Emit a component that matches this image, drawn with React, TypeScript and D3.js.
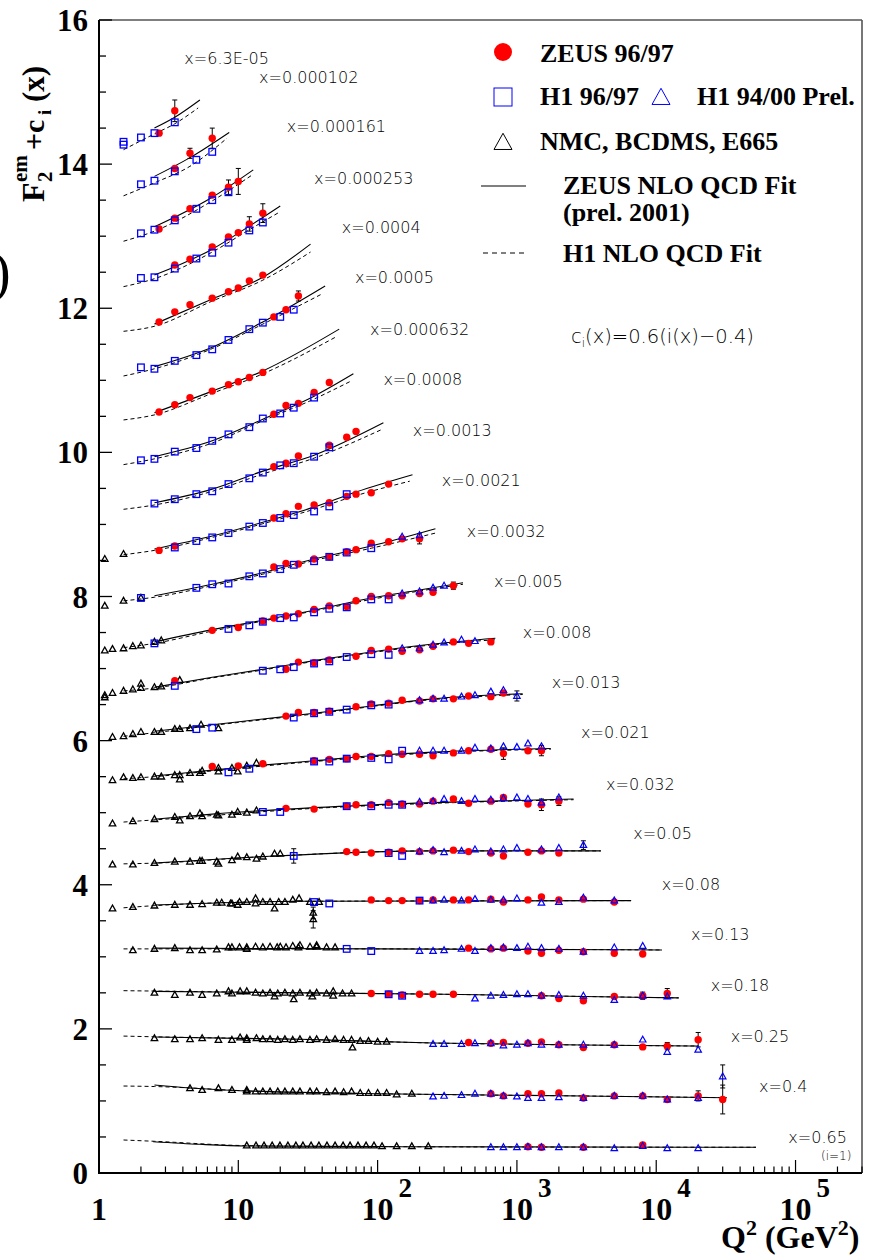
import React from 'react';
import * as d3 from 'd3';

// ---------- DATA ----------
const binLabels = ['x=6.3E-05','x=0.000102','x=0.000161','x=0.000253','x=0.0004','x=0.0005','x=0.000632','x=0.0008','x=0.0013','x=0.0021','x=0.0032','x=0.005','x=0.008','x=0.013','x=0.021','x=0.032','x=0.05','x=0.08','x=0.13','x=0.18','x=0.25','x=0.4','x=0.65'];
// label anchor (Q2 at text start, F2+c at baseline)
const labelQ2 = [4.1,14.1,22.3,35,55.3,68.8,88.2,110,179,289,436,685,1100,1780,2885,4360,6850,10950,17780,24620,34260,54700,88790];
const labelF2 = [15.39,15.13,14.44,13.73,13.04,12.35,11.63,10.94,10.23,9.53,8.83,8.13,7.43,6.73,6.03,5.32,4.63,3.93,3.23,2.53,1.82,1.12,0.42];

const xTickLabels = ['1','10','10','10','10','10'];
const xTickExp = ['','','2','3','4','5'];
const yTickLabels = ['0','2','4','6','8','10','12','14','16'];

// [bin, Q2, F2+c, err?]
const zeusPts: number[][] = [
  [0,2.7,14.43],[0,3.5,14.74,0.15],
  [1,3.5,13.94],[1,4.5,14.15,0.07],[1,6.5,14.36,0.14],
  [2,2.7,13.10],[2,3.5,13.25],[2,4.5,13.38],[2,6.5,13.57],[2,8.5,13.68,0.1],[2,10,13.76,0.18],
  [3,3.5,12.60],[3,4.5,12.68],[3,6.5,12.85],[3,8.5,12.99],[3,10,13.05],[3,12,13.17,0.1],[3,15,13.32,0.13],
  [4,2.7,11.81],[4,3.5,11.95],[4,4.5,12.05],[4,6.5,12.14],[4,8.5,12.23],[4,10,12.28],[4,12,12.38],[4,15,12.46],
  [5,18,11.88],[5,22,11.98],[5,27,12.17,0.07],
  [6,2.7,10.56],[6,3.5,10.66],[6,4.5,10.76],[6,6.5,10.85],[6,8.5,10.94],[6,10,10.98],[6,12,11.04],[6,15,11.11],
  [7,18,10.53],[7,22,10.65],[7,27,10.68],[7,35,10.83],[7,45,10.97],
  [8,18,9.80],[8,22,9.85],[8,27,9.95],[8,45,10.10],[8,60,10.21],[8,70,10.29],
  [9,2.7,8.64],[9,3.5,8.70],[9,18,9.09],[9,22,9.15],[9,27,9.25],[9,35,9.27],[9,45,9.30],[9,60,9.39],[9,70,9.42],[9,90,9.44],[9,120,9.56],
  [10,18,8.41],[10,22,8.46],[10,27,8.45],[10,35,8.52],[10,45,8.55],[10,60,8.62],[10,70,8.65],[10,90,8.74],[10,120,8.76],[10,150,8.80],[10,200,8.80,0.07],
  [11,6.5,7.53],[11,10,7.57],[11,15,7.66],[11,18,7.70],[11,22,7.73],[11,27,7.76],[11,35,7.82],[11,45,7.87],[11,60,7.86],[11,70,7.94],[11,90,8.00],[11,120,8.01],[11,150,8.01],[11,200,8.04],[11,250,8.06],[11,350,8.15,0.05],
  [12,3.5,6.83],[12,22,6.99],[12,27,7.09],[12,35,7.08],[12,45,7.12],[12,70,7.17],[12,90,7.25],[12,120,7.27],[12,150,7.24],[12,200,7.26],[12,250,7.31],[12,350,7.37],[12,450,7.35],[12,650,7.37],
  [13,22,6.34],[13,27,6.39],[13,35,6.39],[13,45,6.41],[13,70,6.47],[13,90,6.51],[13,120,6.52],[13,150,6.56],[13,200,6.55],[13,250,6.58],[13,350,6.58],[13,450,6.62],[13,650,6.61],[13,800,6.66],
  [14,6.5,5.64],[14,10,5.65],[14,15,5.68],[14,35,5.72],[14,45,5.74],[14,60,5.75],[14,70,5.78],[14,90,5.78],[14,120,5.82],[14,150,5.81],[14,200,5.81],[14,250,5.79],[14,350,5.83],[14,450,5.86],[14,650,5.88],[14,800,5.82,0.08],[14,1200,5.86],[14,1500,5.86,0.07],
  [15,22,5.06],[15,35,5.05],[15,60,5.09],[15,70,5.11],[15,90,5.11],[15,120,5.14],[15,150,5.12],[15,200,5.12],[15,250,5.16],[15,350,5.19],[15,450,5.13],[15,650,5.16],[15,800,5.21],[15,1200,5.12],[15,1500,5.11,0.08],[15,2000,5.16,0.06],
  [16,60,4.46],[16,70,4.45],[16,90,4.44],[16,120,4.45],[16,150,4.47],[16,200,4.46],[16,250,4.47],[16,350,4.48],[16,450,4.46],[16,650,4.44],[16,800,4.40],[16,1200,4.45],[16,1500,4.47],[16,2000,4.44],
  [17,90,3.79],[17,120,3.78],[17,150,3.78],[17,200,3.78],[17,250,3.79],[17,350,3.79],[17,450,3.79],[17,650,3.80],[17,800,3.76],[17,1200,3.79],[17,1500,3.83],[17,2000,3.79],[17,3000,3.80],[17,5000,3.76],
  [18,450,3.12],[18,650,3.11],[18,800,3.12],[18,1200,3.08],[18,1500,3.05],[18,2000,3.09],[18,3000,3.07],[18,5000,3.05],[18,8000,3.04],
  [19,90,2.49],[19,120,2.48],[19,150,2.47],[19,200,2.48],[19,250,2.48],[19,350,2.48],[19,1500,2.46],[19,2000,2.42],[19,3000,2.39],[19,5000,2.45],[19,8000,2.46,0.05],[19,12000,2.49,0.07],
  [20,450,1.81],[20,650,1.80],[20,800,1.81],[20,1200,1.80],[20,1500,1.82],[20,2000,1.78],[20,3000,1.74],[20,5000,1.78],[20,8000,1.75],[20,12000,1.76,0.05],[20,20000,1.85,0.1],
  [21,650,1.10],[21,800,1.07],[21,1200,1.10],[21,1500,1.10],[21,2000,1.11],[21,3000,1.04],[21,5000,1.07],[21,8000,1.07],[21,12000,1.02],[21,20000,1.07,0.07],[21,30000,1.02,0.2],
  [22,1200,0.365],[22,1500,0.357],[22,3000,0.357],[22,8000,0.39],
];

const h1SquarePts: number[][] = [
  [0,1.5,14.31],[0,1.5,14.27],[0,2,14.37],[0,2.5,14.43],[0,3.5,14.58],
  [1,2,13.72],[1,2.5,13.77],[1,3.5,13.90],[1,5,14.06],[1,6.5,14.17],
  [2,2,13.04],[2,2.5,13.09],[2,3.5,13.22],[2,5,13.38],[2,6.5,13.50],[2,8.5,13.61],
  [3,2,12.42],[3,2.5,12.43],[3,3.5,12.55],[3,5,12.69],[3,6.5,12.77],[3,8.5,12.91],[3,12,13.08],[3,15,13.19],
  [5,2,11.18],[5,2.5,11.16],[5,3.5,11.27],[5,5,11.35],[5,6.5,11.43],[5,8.5,11.56],[5,12,11.71],[5,15,11.80],[5,20,11.88],[5,25,11.98],
  [7,2,9.89],[7,2.5,9.91],[7,3.5,10.01],[7,5,10.06],[7,6.5,10.16],[7,8.5,10.25],[7,12,10.35],[7,15,10.47],[7,20,10.54],[7,25,10.62],[7,35,10.76],
  [8,2.5,9.29],[8,3.5,9.35],[8,5,9.42],[8,6.5,9.46],[8,8.5,9.56],[8,12,9.64],[8,15,9.72],[8,20,9.82],[8,25,9.85],[8,35,9.94],[8,45,10.07],
  [9,3.5,8.68],[9,5,8.77],[9,6.5,8.82],[9,8.5,8.88],[9,12,8.97],[9,15,9.02],[9,20,9.09],[9,25,9.13],[9,35,9.18],[9,45,9.25],[9,60,9.42],
  [10,2,7.98],[10,5,8.12],[10,6.5,8.17],[10,8.5,8.18],[10,12,8.28],[10,15,8.32],[10,20,8.38],[10,25,8.44],[10,35,8.49],[10,45,8.55],[10,60,8.61],[10,90,8.67],
  [11,2.5,7.35],[11,8.5,7.55],[11,12,7.60],[11,15,7.65],[11,20,7.70],[11,25,7.71],[11,35,7.78],[11,45,7.83],[11,60,7.85],[11,90,7.96],[11,120,7.96],
  [12,3.5,6.76],[12,15,6.97],[12,20,6.99],[12,25,7.02],[12,35,7.07],[12,45,7.10],[12,60,7.16],[12,90,7.20],[12,120,7.19],
  [13,5,6.16],[13,6.5,6.18],[13,25,6.32],[13,35,6.38],[13,45,6.40],[13,60,6.43],[13,90,6.49],[13,120,6.50],
  [14,8.5,5.56],[14,12,5.61],[14,35,5.71],[14,45,5.71],[14,60,5.75],[14,90,5.76],[14,120,5.74],[14,150,5.86],
  [15,15,5.01],[15,20,5.01],[15,60,5.09],[15,90,5.09],[15,120,5.11],[15,150,5.11],
  [16,25,4.40,0.1],[16,120,4.44],[16,150,4.40],
  [17,35,3.76],[17,45,3.74],[17,200,3.78],
  [18,60,3.11],[18,90,3.08],
  [19,120,2.48],[19,150,2.46],
];

const h1TrianglePts: number[][] = [
  [10,150,8.83],[10,200,8.85],
  [11,150,8.04],[11,200,8.07],[11,250,8.12],[11,300,8.15],
  [12,150,7.28],[12,200,7.28],[12,250,7.33],[12,300,7.36],[12,400,7.40],[12,500,7.38],
  [13,200,6.56],[13,250,6.58],[13,300,6.58],[13,400,6.61],[13,500,6.63],[13,650,6.68],[13,800,6.70],[13,1000,6.62,0.07],
  [14,200,5.86],[14,250,5.86],[14,300,5.86],[14,400,5.86],[14,500,5.90],[14,650,5.89],[14,800,5.92],[14,1000,5.91],[14,1200,5.96],[14,1500,5.92],
  [15,200,5.15],[15,250,5.16],[15,300,5.19],[15,400,5.16],[15,500,5.19],[15,650,5.18],[15,800,5.20],[15,1000,5.21],[15,1200,5.19],[15,1500,5.14],[15,2000,5.21],
  [16,200,4.46],[16,250,4.48],[16,300,4.45],[16,400,4.47],[16,500,4.49],[16,650,4.46],[16,800,4.49],[16,1000,4.51],[16,1500,4.49],[16,2000,4.51],[16,3000,4.55,0.06],
  [17,250,3.78],[17,300,3.79],[17,400,3.78],[17,500,3.80],[17,650,3.79],[17,800,3.79],[17,1000,3.81],[17,1500,3.75],[17,2000,3.76],[17,3000,3.82],[17,5000,3.78],
  [18,200,3.08],[18,250,3.08],[18,300,3.09],[18,400,3.11],[18,500,3.08],[18,650,3.12],[18,800,3.13],[18,1000,3.12],[18,1200,3.14],[18,1500,3.12],[18,2000,3.11],[18,3000,3.07],[18,5000,3.13],[18,8000,3.15],
  [19,500,2.42],[19,650,2.46],[19,800,2.47],[19,1000,2.48],[19,1200,2.48],[19,1500,2.46],[19,2000,2.47],[19,3000,2.46],[19,5000,2.40],[19,8000,2.46],[19,12000,2.45],
  [20,250,1.79],[20,300,1.79],[20,400,1.79],[20,500,1.80],[20,650,1.80],[20,800,1.77],[20,1000,1.78],[20,1200,1.80],[20,1500,1.78],[20,2000,1.78],[20,3000,1.78],[20,5000,1.78],[20,8000,1.85],[20,12000,1.68],[20,20000,1.71],
  [21,250,1.06],[21,300,1.07],[21,400,1.08],[21,500,1.10],[21,650,1.10],[21,800,1.07],[21,1000,1.06],[21,1200,1.04],[21,1500,1.04],[21,2000,1.05],[21,3000,1.04],[21,5000,1.07],[21,8000,1.07],[21,12000,1.02],[21,20000,1.04],[21,30000,1.34,0.16],
  [22,650,0.357],[22,800,0.357],[22,1000,0.357],[22,1200,0.365],[22,1500,0.357],[22,2000,0.357],[22,3000,0.357],[22,5000,0.343],[22,8000,0.375],[22,12000,0.343],[22,20000,0.343],
];

const fixedTargetPts: number[][] = [
  [9,1.1,8.52],[9,1.5,8.59],
  [10,1.1,7.87],[10,1.5,7.94],[10,2,7.98],
  [11,1.1,7.25],[11,1.25,7.27],[11,1.5,7.28],[11,1.75,7.31],[11,2,7.32],[11,2.5,7.37],[11,2.8,7.39],
  [12,1.1,6.63],[12,1.1,6.60],[12,1.25,6.66],[12,1.5,6.69],[12,1.75,6.71],[12,2,6.73],[12,2,6.79],[12,2.5,6.74],[12,2.8,6.75],[12,3.8,6.84],
  [13,1.25,6.05],[13,1.5,6.06],[13,1.75,6.09],[13,2,6.12],[13,2.5,6.12],[13,2.8,6.12],[13,3.5,6.16],[13,3.8,6.16],[13,4.5,6.17],[13,5.4,6.22],[13,7.2,6.17],
  [14,1.25,5.45],[14,1.5,5.49],[14,1.75,5.48],[14,2,5.49],[14,2.5,5.50],[14,2.8,5.50],[14,3.5,5.52],[14,3.8,5.52],[14,3.8,5.46],[14,4.5,5.55],[14,5.3,5.55],[14,5.5,5.58],[14,7.2,5.62],[14,7.2,5.57],[14,9,5.62],[14,9.9,5.57],[14,11.5,5.65],[14,13.5,5.69],
  [15,1.25,4.85],[15,1.75,4.88],[15,2.5,4.91],[15,3.5,4.94],[15,3.8,4.89],[15,4.5,4.95],[15,5.3,4.99],[15,5.5,4.95],[15,7,4.97],[15,7.2,4.96],[15,9,4.97],[15,9.9,5.01],[15,11.5,5.00],[15,13.5,5.03],
  [16,1.25,4.28],[16,1.75,4.28],[16,2.5,4.30],[16,3.5,4.32],[16,4.5,4.32],[16,5.3,4.33],[16,5.5,4.33],[16,7,4.32],[16,7.2,4.29],[16,9,4.34],[16,9.9,4.39],[16,11.5,4.38],[16,13.5,4.36],[16,15,4.39],[16,18.2,4.43],[16,20,4.43],
  [17,1.25,3.67],[17,1.75,3.69],[17,2.5,3.71],[17,3.5,3.72],[17,4.5,3.72],[17,5.5,3.73],[17,7,3.75],[17,7.6,3.75],[17,8.8,3.74],[17,9,3.74],[17,9.9,3.72],[17,10.2,3.76],[17,11.5,3.76],[17,13.3,3.81],[17,13.3,3.74],[17,15,3.76],[17,16.9,3.76],[17,18.2,3.67],[17,19.5,3.76],[17,21.6,3.76],[17,24.6,3.79],[17,27.3,3.81],[17,32.7,3.76],[17,34.5,3.61,0.08],[17,34.5,3.52,0.12],[17,38,3.76],
  [18,1.75,3.09],[18,2.5,3.11],[18,3.5,3.12],[18,4.5,3.09],[18,5.5,3.09],[18,7,3.10],[18,8.5,3.13],[18,9,3.13],[18,10.2,3.13],[18,11.5,3.13],[18,11.5,3.11],[18,13.3,3.14],[18,15,3.13],[18,16.9,3.14],[18,19,3.13],[18,20,3.14],[18,22,3.13],[18,24.6,3.15],[18,27,3.13],[18,27.7,3.16],[18,32.7,3.14],[18,36.5,3.16],[18,36.5,3.14],[18,43,3.13],[18,49.5,3.13],
  [19,2.5,2.50],[19,3.5,2.47],[19,4.5,2.50],[19,5.5,2.47],[19,7,2.49],[19,8.5,2.52],[19,9,2.49],[19,10.3,2.52],[19,11.5,2.52],[19,13.3,2.50],[19,15,2.49],[19,16.9,2.50],[19,18.2,2.45],[19,19.2,2.49],[19,21.6,2.50],[19,24.6,2.49],[19,25,2.41],[19,27.7,2.50],[19,32.7,2.49],[19,34,2.45],[19,36.5,2.50],[19,43,2.49],[19,48,2.52],[19,48,2.46],[19,56,2.49],[19,65,2.49],
  [20,2.5,1.87],[20,3.5,1.855],[20,4.5,1.855],[20,5.5,1.87],[20,7.2,1.846],[20,9,1.846],[20,10.3,1.88],[20,11.5,1.87],[20,11.5,1.846],[20,13.5,1.87],[20,15,1.855],[20,16.9,1.855],[20,19.2,1.846],[20,21.6,1.855],[20,24.6,1.846],[20,27.7,1.855],[20,32.7,1.846],[20,36.5,1.855],[20,43,1.846],[20,49.5,1.855],[20,57,1.846],[20,65,1.846],[20,66,1.74],[20,75,1.83],[20,86,1.83],[20,100,1.82],[20,116,1.82],
  [21,4.5,1.175],[21,5.5,1.15],[21,7.2,1.175],[21,9,1.15],[21,11.5,1.15],[21,11.5,1.13],[21,13.3,1.13],[21,15,1.13],[21,16.9,1.13],[21,19.2,1.13],[21,21.6,1.13],[21,24.6,1.13],[21,27.7,1.13],[21,32.7,1.13],[21,36.5,1.13],[21,43,1.12],[21,49.5,1.13],[21,57,1.12],[21,65,1.13],[21,75,1.11],[21,86,1.11],[21,100,1.11],[21,116,1.11],[21,137,1.09],[21,176,1.10],
  [22,11.5,0.38],[22,13.4,0.38],[22,15.3,0.38],[22,17.5,0.38],[22,19.9,0.38],[22,22.7,0.38],[22,25.9,0.38],[22,29.1,0.38],[22,33.3,0.38],[22,37.9,0.38],[22,43.3,0.38],[22,49.5,0.38],[22,56.5,0.38],[22,63.4,0.38],[22,72.3,0.38],[22,82.6,0.38],[22,94.2,0.38],[22,107.6,0.37],[22,137,0.37],[22,176,0.37],[22,231,0.37],
];

// fits: [bin, Q2, F2+c]
const zeusFit: number[][] = [
  [0,2.5,14.50],[0,3.5,14.65],[0,5.3,14.89],
  [1,2.5,13.83],[1,4.5,14.09],[1,8.6,14.44],
  [2,2.5,13.13],[2,6.5,13.54],[2,12.8,13.92],
  [3,2.5,12.46],[3,6.5,12.82],[3,12,13.14],[3,20,13.42],
  [4,2.5,11.78],[4,6.5,12.13],[4,15,12.43],[4,33,12.89],
  [5,2.5,11.19],[5,6.5,11.46],[5,15,11.81],[5,42,12.31],
  [6,2.5,10.55],[6,6.5,10.85],[6,15,11.13],[6,53,11.71],
  [7,2.5,9.94],[7,6.5,10.16],[7,15,10.46],[7,35,10.78],[7,67,11.09],
  [8,2.5,9.30],[8,6.5,9.49],[8,15,9.74],[8,35,9.96],[8,110,10.41],
  [9,2.5,8.66],[9,6.5,8.84],[9,15,9.03],[9,35,9.24],[9,70,9.45],[9,178,9.69],
  [10,2.5,8.01],[10,6.5,8.17],[10,15,8.33],[10,35,8.52],[10,90,8.70],[10,260,8.94],
  [11,2.5,7.37],[11,6.5,7.54],[11,15,7.67],[11,35,7.81],[11,90,7.98],[11,200,8.09],[11,410,8.19],
  [12,2.5,6.74],[12,6.5,6.88],[12,15,6.99],[12,35,7.11],[12,90,7.23],[12,250,7.34],[12,700,7.42],
  [13,2.5,6.13],[13,6.5,6.22],[13,15,6.30],[13,35,6.38],[13,90,6.48],[13,250,6.58],[13,1100,6.65],
  [14,2.5,5.51],[14,6.5,5.59],[14,15,5.66],[14,35,5.72],[14,90,5.79],[14,250,5.84],[14,1750,5.89],
  [15,2.5,4.91],[15,6.5,4.98],[15,35,5.07],[15,250,5.14],[15,2550,5.19],
  [16,2.5,4.30],[16,15,4.39],[16,250,4.47],[16,4000,4.47],
  [17,2.5,3.72],[17,28,3.77],[17,6600,3.78],
  [18,2.5,3.12],[18,100,3.11],[18,11000,3.095],
  [19,2.5,2.52],[19,30,2.50],[19,300,2.48],[19,3000,2.45],[19,14500,2.43],
  [20,2.5,1.887],[20,28,1.855],[20,250,1.804],[20,3000,1.776],[20,20000,1.762],
  [21,2.5,1.221],[21,4.5,1.18],[21,12,1.138],[21,145,1.096],[21,3000,1.069],[21,32000,1.045],
  [22,2.45,0.434],[22,5.3,0.398],[22,11.5,0.375],[22,145,0.365],[22,52000,0.357],
];

const h1Fit: number[][] = [
  [0,1.5,14.20],[0,2.5,14.42],[0,3.5,14.56],[0,5.15,14.78],
  [1,1.5,13.56],[1,2.5,13.74],[1,4.5,13.97],[1,8.3,14.36],
  [2,1.5,12.93],[2,2.5,13.07],[2,6.5,13.49],[2,12.8,13.86],
  [3,1.5,12.30],[3,2.5,12.41],[3,6.5,12.78],[3,12,13.09],[3,20,13.34],
  [4,1.5,11.68],[4,2.5,11.75],[4,6.5,12.10],[4,15,12.39],[4,33,12.78],
  [5,1.5,11.06],[5,2.5,11.16],[5,6.5,11.44],[5,15,11.78],[5,40,12.20],
  [6,1.5,10.45],[6,2.5,10.52],[6,6.5,10.82],[6,15,11.09],[6,50,11.60],
  [7,1.5,9.83],[7,2.5,9.91],[7,6.5,10.13],[7,15,10.44],[7,35,10.74],[7,63,10.98],
  [8,1.5,9.21],[8,2.5,9.27],[8,6.5,9.46],[8,15,9.70],[8,35,9.92],[8,105,10.31],
  [9,1.5,8.58],[9,2.5,8.64],[9,6.5,8.82],[9,15,9.01],[9,35,9.21],[9,70,9.40],[9,170,9.60],
  [10,1.5,7.94],[10,2.5,7.99],[10,6.5,8.15],[10,15,8.31],[10,35,8.50],[10,90,8.67],[10,260,8.88],
  [11,1.5,7.29],[11,2.5,7.35],[11,6.5,7.52],[11,15,7.66],[11,35,7.80],[11,90,7.96],[11,410,8.17],
  [12,1.5,6.69],[12,2.5,6.73],[12,6.5,6.87],[12,15,6.98],[12,35,7.10],[12,90,7.22],[12,250,7.33],[12,700,7.40],
  [13,1.5,6.06],[13,2.5,6.11],[13,6.5,6.21],[13,35,6.37],[13,250,6.57],[13,1100,6.64],
  [14,1.5,5.47],[14,2.5,5.50],[14,6.5,5.58],[14,35,5.71],[14,250,5.83],[14,1750,5.88],
  [15,1.5,4.87],[15,2.5,4.90],[15,35,5.06],[15,250,5.13],[15,2550,5.18],
  [16,1.5,4.29],[16,2.5,4.30],[16,15,4.39],[16,250,4.47],[16,4000,4.47],
  [17,1.5,3.68],[17,2.5,3.71],[17,28,3.77],[17,6600,3.78],
  [18,1.5,3.11],[18,100,3.11],[18,11000,3.095],
  [19,1.5,2.53],[19,30,2.50],[19,300,2.48],[19,3000,2.45],[19,14500,2.43],
  [20,1.5,1.90],[20,2.5,1.89],[20,28,1.855],[20,250,1.804],[20,3000,1.776],[20,20000,1.762],
  [21,1.5,1.207],[21,2.5,1.20],[21,12,1.138],[21,145,1.096],[21,3000,1.069],[21,32000,1.045],
  [22,1.5,0.458],[22,2.5,0.44],[22,11.5,0.38],[22,145,0.365],[22,52000,0.357],
];

// ---------- CHART ----------
const SERIF = '"Liberation Serif", "Times New Roman", serif';
const SANS = '"DejaVu Sans", sans-serif';

function tri(cx: number, cy: number, s: number) {
  const h = s * 0.9;
  return `M${cx},${cy - h * 0.6}L${cx + s / 2},${cy + h * 0.4}L${cx - s / 2},${cy + h * 0.4}Z`;
}

export default function App() {
  const W = 874, H = 1255;
  const L = 99, R = 862, T = 20, B = 1173;
  const x = d3.scaleLog().domain([1, 3e5]).range([L, R]);
  const y = d3.scaleLinear().domain([0, 16]).range([B, T]);
  const line = d3.line<number[]>().x(d => x(d[1])).y(d => y(d[2])).curve(d3.curveMonotoneX);

  const zGroups = Array.from(d3.group(zeusFit, d => d[0]).values());
  const hGroups = Array.from(d3.group(h1Fit, d => d[0]).values());

  const yTicks = d3.range(0, 16.001, 0.5);
  const xTicks: { v: number; major: boolean }[] = [];
  for (let e = 0; e <= 5; e++) {
    for (let m = 1; m <= 9; m++) {
      const v = m * Math.pow(10, e);
      if (v <= 3e5 && v > 1) xTicks.push({ v, major: m === 1 });
    }
  }

  const allPts = [...zeusPts, ...h1SquarePts, ...h1TrianglePts, ...fixedTargetPts].filter(p => p[3] !== undefined);

  return (
    <svg width={W} height={H} style={{ position: 'absolute', left: 0, top: 0, background: '#fff' }}>
      <rect x={0} y={0} width={W} height={H} fill="#fff" />
      {/* stray bracket at the left edge */}
      <text x={-8} y={291} fontFamily={SERIF} fontSize={56}>)</text>

      {/* frame */}
      <line x1={L} y1={T} x2={R} y2={T} stroke="#555" strokeWidth={1.6} />
      <line x1={R} y1={T} x2={R} y2={B} stroke="#555" strokeWidth={1.6} />

      {/* fits */}
      {hGroups.map((g, i) => (
        <path key={'h' + i} d={line(g) || ''} fill="none" stroke="#000" strokeWidth={1} strokeDasharray="4,3" />
      ))}
      {zGroups.map((g, i) => (
        <path key={'z' + i} d={line(g) || ''} fill="none" stroke="#000" strokeWidth={1.1} />
      ))}

      {/* error bars */}
      {allPts.map((p, i) => (
        <g key={'e' + i} stroke="#000" strokeWidth={1}>
          <line x1={x(p[1])} x2={x(p[1])} y1={y(p[2] - p[3])} y2={y(p[2] + p[3])} />
          <line x1={x(p[1]) - 2.5} x2={x(p[1]) + 2.5} y1={y(p[2] + p[3])} y2={y(p[2] + p[3])} />
          <line x1={x(p[1]) - 2.5} x2={x(p[1]) + 2.5} y1={y(p[2] - p[3])} y2={y(p[2] - p[3])} />
        </g>
      ))}

      {/* fixed target */}
      {fixedTargetPts.map((p, i) => (
        <path key={'f' + i} d={tri(x(p[1]), y(p[2]), 6.5)} fill="none" stroke="#000" strokeWidth={1.3} />
      ))}
      {/* ZEUS */}
      {zeusPts.map((p, i) => (
        <circle key={'zp' + i} cx={x(p[1])} cy={y(p[2])} r={3.7} fill="#ff0000" />
      ))}
      {/* H1 squares */}
      {h1SquarePts.map((p, i) => (
        <rect key={'s' + i} x={x(p[1]) - 3.3} y={y(p[2]) - 3.3} width={6.6} height={6.6} fill="none" stroke="#0000ff" strokeWidth={1.3} />
      ))}
      {/* H1 triangles */}
      {h1TrianglePts.map((p, i) => (
        <path key={'t' + i} d={tri(x(p[1]), y(p[2]), 6.5)} fill="none" stroke="#0000ff" strokeWidth={1.2} />
      ))}

      {/* bin labels */}
      {binLabels.map((t, i) => (
        <text key={'lb' + i} x={x(labelQ2[i])} y={y(labelF2[i])} fontFamily={SANS} fontWeight={300} fontSize={16} fill="#000">{t}</text>
      ))}
      <text x={821} y={1160} fontFamily={SANS} fontWeight={300} fontSize={12} fill="#000">(i=1)</text>
      <text x={571} y={343} fontFamily={SANS} fontWeight={300} fontSize={19.5} fill="#000">
        c<tspan fontSize={12} dy={4}>i</tspan><tspan dy={-4}>(x)=0.6(i(x)−0.4)</tspan>
      </text>

      {/* axes */}
      <line x1={L} y1={T} x2={L} y2={B + 1} stroke="#000" strokeWidth={2} />
      <line x1={L - 1} y1={B} x2={R} y2={B} stroke="#000" strokeWidth={2} />
      {yTicks.map((v, i) => {
        const major = Math.abs(v % 2) < 1e-6;
        return <line key={'yt' + i} x1={L} x2={L + (major ? 13 : 7)} y1={y(v)} y2={y(v)} stroke="#000" strokeWidth={1.3} />;
      })}
      {yTickLabels.map((t, i) => (
        <text key={'yl' + i} x={88} y={y(i * 2) + 11} textAnchor="end" fontFamily={SERIF} fontWeight="bold" fontSize={31}>{t}</text>
      ))}
      {xTicks.map((t, i) => (
        <line key={'xt' + i} x1={x(t.v)} x2={x(t.v)} y1={B} y2={B - (t.major ? 13 : 6.5)} stroke="#000" strokeWidth={1.2} />
      ))}
      {xTickLabels.map((t, i) => (
        <g key={'xl' + i}>
          <text x={x(Math.pow(10, i))} y={1220} textAnchor="middle" fontFamily={SERIF} fontWeight="bold" fontSize={32}>{t}</text>
          {xTickExp[i] && (
            <text x={x(Math.pow(10, i)) + 21} y={1197} fontFamily={SERIF} fontWeight="bold" fontSize={27}>{xTickExp[i]}</text>
          )}
        </g>
      ))}
      <text x={721} y={1248} fontFamily={SERIF} fontWeight="bold" fontSize={32}>
        Q<tspan fontSize={22} dy={-13}>2</tspan><tspan dy={13}> (GeV</tspan><tspan fontSize={22} dy={-13}>2</tspan><tspan dy={13}>)</tspan>
      </text>

      {/* y title */}
      <g transform="translate(44,202) rotate(-90)" fontFamily={SERIF} fontWeight="bold">
        <text x={0} y={0} fontSize={32}>F</text>
        <text x={20} y={8} fontSize={21}>2</text>
        <text x={20} y={-17} fontSize={21}>em</text>
        <text x={52} y={0} fontSize={30}>+c</text>
        <text x={87} y={7} fontSize={19}>i</text>
        <text x={100} y={0} fontSize={31}>(x)</text>
      </g>

      {/* legend */}
      <circle cx={503} cy={52} r={9} fill="#ff0000" />
      <text x={540} y={62} fontFamily={SERIF} fontWeight="bold" fontSize={26}>ZEUS 96/97</text>
      <rect x={494} y={88} width={18} height={18} fill="none" stroke="#0000ff" strokeWidth={1} />
      <text x={540} y={105} fontFamily={SERIF} fontWeight="bold" fontSize={26}>H1 96/97</text>
      <path d={tri(661, 98, 18)} fill="none" stroke="#0000ff" strokeWidth={1} />
      <text x={697} y={105} fontFamily={SERIF} fontWeight="bold" fontSize={26}>H1 94/00 Prel.</text>
      <path d={tri(503, 143, 18)} fill="none" stroke="#000" strokeWidth={1} />
      <text x={540} y={150} fontFamily={SERIF} fontWeight="bold" fontSize={26}>NMC, BCDMS, E665</text>
      <line x1={481} x2={526} y1={186} y2={186} stroke="#000" strokeWidth={1} />
      <text x={563} y={194} fontFamily={SERIF} fontWeight="bold" fontSize={26}>ZEUS NLO QCD Fit</text>
      <text x={563} y={221} fontFamily={SERIF} fontWeight="bold" fontSize={26}>(prel. 2001)</text>
      <line x1={483} x2={526} y1={253} y2={253} stroke="#000" strokeWidth={1} strokeDasharray="5,4" />
      <text x={563} y={262} fontFamily={SERIF} fontWeight="bold" fontSize={26}>H1 NLO QCD Fit</text>
    </svg>
  );
}
